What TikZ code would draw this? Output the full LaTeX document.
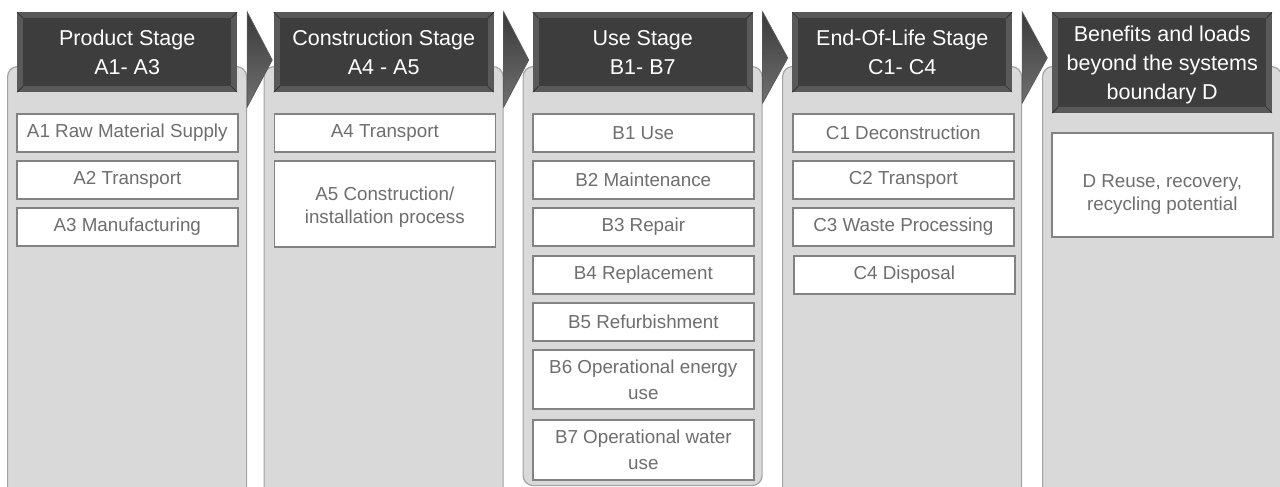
\documentclass[tikz,border=0pt]{standalone}
\usepackage{fontspec}
\setmainfont{Liberation Sans}
\usepackage{tikz}
\usetikzlibrary{calc}

\definecolor{panelfill}{HTML}{D9D9D9}
\definecolor{panelline}{HTML}{A3A3A3}
\definecolor{itemline}{HTML}{828282}
\definecolor{itemtext}{HTML}{6E6E6E}
\definecolor{headfill}{HTML}{3D3D3D}
\definecolor{headbevel}{HTML}{595959}
\definecolor{chevdark}{HTML}{3A3A3A}
\definecolor{chevlight}{HTML}{707070}

\newcommand{\stagefont}{\fontsize{21.5}{29}\selectfont}
\newcommand{\modfont}{\fontsize{18.8}{26}\selectfont}

\begin{document}
\begin{tikzpicture}[x=1pt,y=-1pt,
      panel/.style={draw=panelline,fill=panelfill,line width=1.2pt,
        rounded corners=10pt,anchor=north west,minimum width=239pt,inner sep=0pt},
      header/.style={fill=headbevel,text=white,font=\stagefont,align=center,
        anchor=north west,minimum width=220pt,minimum height=80pt,inner sep=0pt,
        path picture={
          \fill[headfill] ([xshift=6pt,yshift=-6pt]path picture bounding box.north west)
            rectangle ([xshift=-6pt,yshift=6pt]path picture bounding box.south east);
          \draw[headfill!70!black,line width=0.6pt]
            (path picture bounding box.north west) -- ++(6pt,-6pt)
            (path picture bounding box.north east) -- ++(-6pt,-6pt)
            (path picture bounding box.south west) -- ++(6pt,6pt)
            (path picture bounding box.south east) -- ++(-6pt,6pt);}},
      item/.style={draw=itemline,fill=white,line width=1.6pt,text=itemtext,
        font=\modfont,align=center,anchor=north west,minimum width=221pt,
        minimum height=38pt,inner sep=2pt},
      chev/.style={top color=chevdark,bottom color=chevlight,
        draw=headbevel,line width=0.8pt}]
    \clip (0,0) rectangle (1280,487);
    % panels
    \node[panel,minimum height=440pt] (p1) at (7,66) {};
    \node[panel,minimum height=440pt] (p2) at (263.5,66) {};
    \node[panel,minimum height=419pt] (p3) at (522.5,66) {};
    \node[panel,minimum height=440pt] (p4) at (782,66) {};
    \node[panel,minimum height=440pt] (p5) at (1042,66) {};
    % stage headers
    \node[header] (h1) at (17,12) {Product Stage\\A1- A3};
    \node[header] (h2) at (273.5,12) {Construction Stage\\A4 - A5};
    \node[header] (h3) at (532.5,12) {Use Stage\\B1- B7};
    \node[header] (h4) at (792,12) {End-Of-Life Stage\\C1- C4};
    \node[header,minimum height=101pt] (h5) at (1052,12)
      {\rule{0pt}{21pt}Benefits and loads\\beyond the systems\\boundary D};
    % chevrons
    \shade[chev] (p1.east |- h1.north) -- ++(25,48) -- ++(-25,47) -- cycle;
    \shade[chev] (p2.east |- h2.north) -- ++(25,48) -- ++(-25,47) -- cycle;
    \shade[chev] (p3.east |- h3.north) -- ++(25,46) -- ++(-25,45) -- cycle;
    \shade[chev] (p4.east |- h4.north) -- ++(25,46) -- ++(-25,45) -- cycle;
    % modules
    \node[item] (a1) at (16,113) {A1 Raw Material Supply};
    \node[item] (a2) at (16,160) {A2 Transport};
    \node[item] (a3) at (16,207) {A3 Manufacturing};
    \node[item] (a4) at (273.5,113) {A4 Transport};
    \node[item,minimum height=86pt] (a5) at (273.5,160)
      {\rule{0pt}{21pt}A5 Construction/\\[-3pt]installation process};
    \node[item] (b1) at (532,113) {B1 Use};
    \node[item] (b2) at (532,160) {B2 Maintenance};
    \node[item] (b3) at (532,207) {B3 Repair};
    \node[item] (b4) at (532,255) {B4 Replacement};
    \node[item] (b5) at (532,302) {B5 Refurbishment};
    \node[item,minimum height=59pt] (b6) at (532,349) {B6 Operational energy\\use};
    \node[item,minimum height=60pt] (b7) at (532,419) {B7 Operational water\\use};
    \node[item] (c1) at (792,113) {C1 Deconstruction};
    \node[item] (c2) at (792,160) {C2 Transport};
    \node[item] (c3) at (792,207) {C3 Waste Processing};
    \node[item] (c4) at (793,255) {C4 Disposal};
    \node[item,minimum height=104pt] (d1) at (1051,132)
      {\rule{0pt}{32pt}D Reuse, recovery,\\[-3pt]recycling potential};
\end{tikzpicture}
\end{document}
